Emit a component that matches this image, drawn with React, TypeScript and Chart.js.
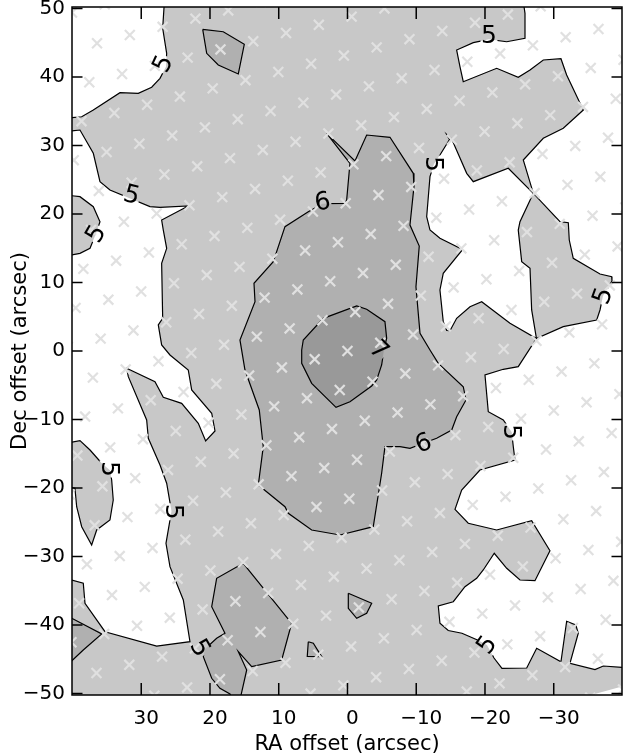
import React, { useEffect, useRef } from "react";
import { Chart, registerables } from "chart.js";

Chart.register(...registerables);

type P = [number, number];

// ---- axes ----
const X_TICKS = [30, 20, 10, 0, -10, -20, -30];
const Y_TICKS = [50, 40, 30, 20, 10, 0, -10, -20, -30, -40, -50];
const X_MIN = -39.93;
const X_MAX = 40.07;
const Y_MIN = -50.22;
const Y_MAX = 50.22;
const X_TITLE = "RA offset (arcsec)";
const Y_TITLE = "Dec offset (arcsec)";

// ---- contour lines (RA, Dec in arcsec) ----
const TOP_LEFT_5: P[] = [[26.6, 51.5], [26.88, 47.11], [26.3, 43.46], [26.4, 41.5], [27.27, 39.81], [28.48, 38.5], [30.43, 37.62], [33.09, 37.71], [36.97, 35.18], [38.66, 34.2], [41.0, 33.97]];
const LEFT_5: P[] = [[41.0, 32.01], [38.91, 32.26], [36.97, 28.86], [36.0, 24.72], [34.55, 23.5], [28.73, 21.07], [27.27, 20.98], [23.16, 21.17], [27.03, 19.12], [26.79, 17.66], [26.3, 14.99], [27.03, 12.8], [26.88, 4.77], [27.52, 3.8], [27.03, 0.88], [25.82, -0.58], [23.16, -2.77], [22.66, -5.69], [19.75, -9.09], [19.27, -11.68], [20.63, -13.14], [21.7, -10.55], [24.12, -7.64], [26.79, -6.76], [28.0, -4.48], [32.12, -2.53], [31.88, -3.75], [29.21, -10.07], [28.97, -12.74], [27.27, -16.64], [26.3, -19.31], [25.6, -23.4], [26.4, -28.07], [25.82, -31.49], [23.88, -36.35], [22.91, -42.44], [27.75, -43.07], [35.27, -40.98], [38.18, -36.83], [38.43, -33.91], [41.0, -33.18]];
const LEFT_BUMP_5: P[] = [[41.0, 22.77], [38.91, 22.53], [36.97, 21.07], [36.0, 18.88], [36.6, 17.1], [37.45, 14.99], [38.91, 14.26], [41.0, 13.87]];
const LEFT_ISLAND_5: P[] = [[41.0, -13.47], [38.91, -13.09], [37.45, -14.45], [35.75, -16.39], [34.55, -17.4], [34.3, -18.83], [34.07, -21.75], [34.55, -24.67], [36.48, -26.13], [37.21, -28.32], [38.66, -25.65], [39.39, -22.73], [39.64, -20.04], [41.0, -19.7]];
const RIGHT_5: P[] = [[-25.5, 51.5], [-25.82, 49.3], [-25.82, 45.65], [-23.16, 45.15], [-20.58, 45.5], [-18.3, 45.01], [-15.88, 43.94], [-16.36, 41.5], [-16.84, 39.31], [-21.7, 41.27], [-24.84, 39.96], [-26.55, 41.02], [-28.48, 42.48], [-31.05, 42.67], [-31.88, 40.29], [-34.3, 35.18], [-31.39, 32.51], [-28.48, 31.05], [-25.57, 27.88], [-27.03, 23.02], [-30.91, 18.88], [-32.12, 18.73], [-32.26, 16.2], [-32.84, 13.53], [-36.73, 11.24], [-38.43, 10.85], [-38.47, 10.22], [-37.16, 8.03], [-36.73, 5.99], [-36.25, 4.53], [-31.39, 3.55], [-27.49, 1.82], [-24.84, -2.29], [-22.66, -2.67], [-20.0, -3.5], [-20.48, -8.86], [-22.66, -10.07], [-23.88, -11.82], [-24.12, -13.97], [-24.36, -15.91], [-19.27, -17.37], [-16.61, -20.29], [-15.64, -23.11], [-17.57, -25.15], [-21.7, -26.13], [-26.79, -24.77], [-29.45, -29.15], [-27.27, -33.53], [-25.09, -33.43], [-23.16, -31.72], [-21.35, -29.53], [-19.75, -31.97], [-18.79, -33.18], [-17.09, -34.41], [-15.39, -36.6], [-13.21, -37.23], [-13.45, -39.75], [-14.66, -40.8], [-16.65, -41.21], [-18.91, -42.19], [-20.29, -42.92], [-21.31, -44.82], [-22.47, -46.32], [-26.07, -46.28], [-27.52, -43.4], [-31.05, -45.36], [-31.88, -39.45], [-33.21, -40.0], [-33.57, -41.21], [-32.36, -45.59], [-36.0, -46.5], [-37.21, -45.99], [-41.0, -46.28]];
const POCKET_5: P[] = [[-27.03, 23.02], [-23.39, 26.67], [-18.3, 24.72], [-17.34, 25.94], [-15.16, 30.95], [-14.43, 31.61], [-14.84, 30.88], [-13.45, 28.61], [-12.58, 27.3], [-12.0, 25.45], [-11.52, 19.61], [-12.0, 17.66], [-13.45, 16.45], [-16.36, 14.99], [-16.61, 14.64], [-13.93, 11.34], [-13.45, 8.91], [-13.93, 4.28], [-14.43, 2.99], [-14.91, 2.96], [-15.88, 4.77], [-17.82, 6.47], [-19.52, 7.2], [-23.64, 4.04], [-27.49, 1.82], [-26.79, 5.99], [-26.55, 12.07], [-25.34, 13.04], [-24.84, 17.66], [-25.09, 18.88], [-27.03, 23.02]];
const CORNER_WEDGE_5: P[] = [[-32.6, -51.0], [-41.0, -48.68], [-41.0, -52.0], [-32.6, -52.0]];

const CENTRE_6: P[] = [[-0.36, 27.4], [3.03, 31.78], [-1.09, 27.74], [-2.79, 31.53], [-6.18, 31.2], [-9.57, 25.94], [-9.67, 23.99], [-9.09, 18.39], [-10.44, 15.33], [-9.96, 9.39], [-10.55, 2.58], [-12.0, 0.15], [-13.21, -1.8], [-16.84, -5.21], [-17.24, -7.15], [-15.88, -9.59], [-15.16, -11.53], [-12.97, -12.74], [-11.03, -13.47], [-9.09, -14.2], [-7.64, -13.97], [-5.45, -13.97], [-4.97, -17.85], [-3.75, -25.65], [1.09, -26.86], [5.21, -26.13], [8.61, -23.69], [9.09, -22.73], [12.97, -19.56], [12.25, -13.97], [12.83, -8.61], [14.91, -2.77], [15.64, 1.61], [13.45, 7.2], [13.6, 9.88], [10.79, 13.04], [9.09, 18.15], [5.7, 20.34], [3.64, 21.5], [0.36, 21.56], [0.12, 22.04], [-0.36, 27.4]];
const TOP_6: P[] = [[21.06, 46.96], [18.07, 46.61], [15.01, 44.77], [15.88, 40.44], [18.79, 41.75], [20.48, 43.46], [21.06, 46.96]];
const BOTTOM_6: P[] = [[15.16, -30.99], [19.03, -33.18], [19.75, -37.33], [17.82, -41.21], [19.03, -41.94], [20.73, -43.5], [20.97, -44.63], [19.75, -47.78], [18.55, -49.24], [17.09, -50.07], [16.6, -51.2], [15.7, -51.2], [14.66, -46.57], [15.88, -43.9], [13.93, -46.09], [9.57, -45.11], [8.12, -39.75], [15.16, -30.99]];
const EDGE_6: P[] = [[41.0, -38.54], [35.75, -41.31], [38.43, -43.65], [41.0, -46.09]];
const SMALL_A_6: P[] = [[5.7, -42.44], [4.97, -42.67], [3.75, -44.63], [5.85, -44.57], [5.7, -42.44]];
const SMALL_B_6: P[] = [[-0.12, -35.37], [-3.52, -36.83], [-2.79, -38.29], [-1.34, -39.02], [-0.12, -37.56], [-0.12, -35.37]];

const CENTRE_7: P[] = [[6.66, 0.15], [6.66, -1.8], [5.21, -4.72], [1.67, -8.22], [-0.36, -7.4], [-3.52, -5.11], [-4.25, -4.23], [-4.97, -2.04], [-5.3, 0.15], [-5.7, 1.85], [-5.45, 4.28], [-2.79, 6.09], [-1.34, 6.57], [3.52, 4.77], [6.43, 1.61], [6.66, 0.15]];

// contour labels
const LABEL_TEXT = ["5", "5", "5", "5", "6", "5", "7", "6", "5", "5", "5", "5", "5", "5"];
const LABEL_RA = [26.84, -20.58, 31.39, 36.6, 3.64, -12.58, -4.58, -11.03, -23.88, -37.16, 34.55, 25.34, 21.45, -20.29];
const LABEL_DEC = [41.9, 45.99, 22.77, 17.1, 21.75, 27.3, 0.15, -13.47, -11.82, 8.03, -17.23, -23.46, -43.36, -42.92];
const LABEL_ANGLE = [-65, 0, 15, -60, -10, 90, 45, -20, 90, -70, 90, 90, 60, -55];

// sampling grid of pointings: origin and the two lattice steps (arcsec)
const GRID_ORIGIN: P = [0, 0];
const GRID_STEP_ROW: P = [-4.77, 1.197];
const GRID_STEP_COL: P = [1.127, -5.69];

const WHITE = "#ffffff";
const LIGHT = "#c8c8c8";
const MEDIUM = "#b0b0b0";
const DARK = "#999999";
const MARK = "#e0e0e0";
const FONT = "DejaVu Sans";
const OFF_L = 45;
const OFF_R = -45;
const OFF_T = 56;

const xy = (pts: P[]) => pts.map(([x, y]) => ({ x, y }));
const fmt = (v: number) => (v < 0 ? "\u2212" + Math.abs(v) : String(v));

function gridPoints() {
  const out: { x: number; y: number }[] = [];
  for (let n = -14; n <= 14; n++) {
    for (let m = -18; m <= 18; m++) {
      const x = GRID_ORIGIN[0] + m * GRID_STEP_ROW[0] + n * GRID_STEP_COL[0];
      const y = GRID_ORIGIN[1] + m * GRID_STEP_ROW[1] + n * GRID_STEP_COL[1];
      if (x <= 41 && x >= -41 && y <= 51 && y >= -51) out.push({ x, y });
    }
  }
  return out;
}

export default function App() {
  const ref = useRef<HTMLCanvasElement | null>(null);

  useEffect(() => {
    if (!ref.current) return;

    const fills: [P[], string][] = [
      [[...TOP_LEFT_5, [OFF_L, 33.97], [OFF_L, OFF_T], [26.6, OFF_T]], WHITE],
      [[...LEFT_5, [OFF_L, -33.18], [OFF_L, 32.01]], WHITE],
      [[...RIGHT_5, [OFF_R, -46.28], [OFF_R, OFF_T], [-25.5, OFF_T]], WHITE],
      [POCKET_5, WHITE],
      [CORNER_WEDGE_5, WHITE],
      [[...LEFT_BUMP_5, [OFF_L, 13.87], [OFF_L, 22.77]], LIGHT],
      [[...LEFT_ISLAND_5, [OFF_L, -19.7], [OFF_L, -13.47]], LIGHT],
      [CENTRE_6, MEDIUM],
      [TOP_6, MEDIUM],
      [BOTTOM_6, MEDIUM],
      [[...EDGE_6, [OFF_L, -46.09], [OFF_L, -38.54]], MEDIUM],
      [SMALL_A_6, MEDIUM],
      [SMALL_B_6, MEDIUM],
      [CENTRE_7, DARK],
    ];
    const lines: P[][] = [TOP_LEFT_5, LEFT_5, LEFT_BUMP_5, LEFT_ISLAND_5, RIGHT_5, POCKET_5, CENTRE_6, TOP_6, BOTTOM_6, EDGE_6, SMALL_A_6, SMALL_B_6, CENTRE_7];

    const datasets: any[] = [];
    fills.forEach(([pts, color], i) => {
      datasets.push({
        type: "line", label: "fill" + i, data: xy(pts), fill: "shape",
        backgroundColor: color, borderColor: "rgba(0,0,0,0)", borderWidth: 0,
        pointRadius: 0, tension: 0, clip: 0,
      });
    });
    lines.forEach((pts, i) => {
      datasets.push({
        type: "line", label: "contour" + i, data: xy(pts), fill: false,
        borderColor: "#000000", borderWidth: 1.2, pointRadius: 0, tension: 0, clip: 0,
      });
    });
    datasets.push({
      type: "line", label: "grid", data: gridPoints(), showLine: false, fill: false,
      pointStyle: "crossRot", pointRadius: 7, pointBorderWidth: 2.2,
      pointBorderColor: MARK, pointBackgroundColor: "rgba(0,0,0,0)", clip: 0,
    });
    datasets.forEach((d, i) => (d.order = 1000 - i));

    const labelBoxes = (chart: any) => {
      const xs = chart.scales.x;
      const ys = chart.scales.y;
      return LABEL_TEXT.map((t, i) => ({
        t,
        cx: xs.getPixelForValue(LABEL_RA[i]),
        cy: ys.getPixelForValue(LABEL_DEC[i]),
        a: (LABEL_ANGLE[i] * Math.PI) / 180,
      }));
    };

    const bgPlugin = {
      id: "bg",
      beforeDatasetsDraw(chart: any) {
        const { ctx, chartArea: a } = chart;
        ctx.save();
        ctx.fillStyle = LIGHT;
        ctx.fillRect(a.left, a.top, a.right - a.left, a.bottom - a.top);
        ctx.restore();
      },
    };

    const gapPlugin = {
      id: "gap",
      beforeDatasetDraw(chart: any, args: any) {
        const ds = chart.data.datasets[args.index];
        if (!String(ds.label).startsWith("contour")) return;
        const ctx = chart.ctx;
        ctx.save();
        ctx.beginPath();
        ctx.rect(0, 0, chart.width, chart.height);
        const hw = 8.5, hh = 10.5;
        for (const b of labelBoxes(chart)) {
          const c = Math.cos(b.a), s = Math.sin(b.a);
          const pts = [[-hw, -hh], [hw, -hh], [hw, hh], [-hw, hh]].map(([u, v]) => [b.cx + u * c - v * s, b.cy + u * s + v * c]);
          ctx.moveTo(pts[0][0], pts[0][1]);
          for (let k = 1; k < 4; k++) ctx.lineTo(pts[k][0], pts[k][1]);
          ctx.closePath();
        }
        ctx.clip("evenodd");
      },
      afterDatasetDraw(chart: any, args: any) {
        const ds = chart.data.datasets[args.index];
        if (!String(ds.label).startsWith("contour")) return;
        chart.ctx.restore();
      },
    };

    const labelPlugin = {
      id: "labels",
      afterDatasetsDraw(chart: any) {
        const ctx = chart.ctx;
        ctx.save();
        ctx.fillStyle = "#000";
        ctx.font = `25px "${FONT}"`;
        ctx.textAlign = "center";
        ctx.textBaseline = "middle";
        for (const b of labelBoxes(chart)) {
          ctx.save();
          ctx.translate(b.cx, b.cy);
          ctx.rotate(b.a);
          ctx.fillText(b.t, 0, 1);
          ctx.restore();
        }
        ctx.restore();
      },
    };

    const framePlugin = {
      id: "frame",
      afterDraw(chart: any) {
        const { ctx, chartArea: a, scales } = chart;
        ctx.save();
        ctx.strokeStyle = "#000";
        ctx.lineWidth = 1.5;
        ctx.strokeRect(a.left, a.top, a.right - a.left, a.bottom - a.top);
        ctx.beginPath();
        for (const v of X_TICKS) {
          const px = scales.x.getPixelForValue(v);
          ctx.moveTo(px, a.bottom);
          ctx.lineTo(px, a.bottom - 12);
          ctx.moveTo(px, a.top);
          ctx.lineTo(px, a.top + 12);
        }
        for (const v of Y_TICKS) {
          const py = scales.y.getPixelForValue(v);
          ctx.moveTo(a.left, py);
          ctx.lineTo(a.left + 10.5, py);
          ctx.moveTo(a.right, py);
          ctx.lineTo(a.right - 10.5, py);
        }
        ctx.stroke();
        ctx.restore();
      },
    };

    const chart = new Chart(ref.current, {
      type: "line",
      data: { datasets },
      options: {
        responsive: false,
        animation: false,
        devicePixelRatio: 1,
        events: [],
        parsing: false as any,
        normalized: false,
        layout: { autoPadding: false, padding: { top: 7, right: 1, left: 0, bottom: 0 } },
        plugins: { legend: { display: false }, tooltip: { enabled: false } },
        scales: {
          x: {
            type: "linear", min: X_MIN, max: X_MAX, reverse: true, position: "bottom",
            grid: { display: false, drawTicks: false },
            border: { display: false },
            afterBuildTicks: (s: any) => { s.ticks = X_TICKS.map((v) => ({ value: v })); },
            afterFit: (s: any) => { s.height = 60; s.paddingLeft = 0; s.paddingRight = 0; },
            ticks: {
              autoSkip: false, maxRotation: 0, minRotation: 0, padding: 12, labelOffset: 5,
              color: "#000", font: { family: FONT, size: 20, lineHeight: 1.2 },
              callback: (v: any) => fmt(Number(v)),
            },
            title: {
              display: true, text: X_TITLE, color: "#000",
              font: { family: FONT, size: 21, lineHeight: 1 }, padding: { top: 0, bottom: 0 },
            },
          },
          y: {
            type: "linear", min: Y_MIN, max: Y_MAX,
            grid: { display: false, drawTicks: false },
            border: { display: false },
            afterBuildTicks: (s: any) => { s.ticks = Y_TICKS.map((v) => ({ value: v })); },
            afterFit: (s: any) => { s.width = 72; s.paddingTop = 0; s.paddingBottom = 0; },
            ticks: {
              autoSkip: false, padding: 7, color: "#000",
              font: { family: FONT, size: 20, lineHeight: 1.2 },
              callback: (v: any) => fmt(Number(v)),
            },
            title: {
              display: true, text: Y_TITLE, color: "#000",
              font: { family: FONT, size: 21, lineHeight: 1 }, padding: { top: 10, bottom: 0 },
            },
          },
        },
      } as any,
      plugins: [bgPlugin, gapPlugin, labelPlugin, framePlugin],
    });
    return () => chart.destroy();
  }, []);

  return (
    <div style={{ position: "absolute", left: 0, top: 0, width: 623, height: 755, background: "#fff" }}>
      <canvas ref={ref} width={623} height={755} style={{ display: "block" }} />
    </div>
  );
}
